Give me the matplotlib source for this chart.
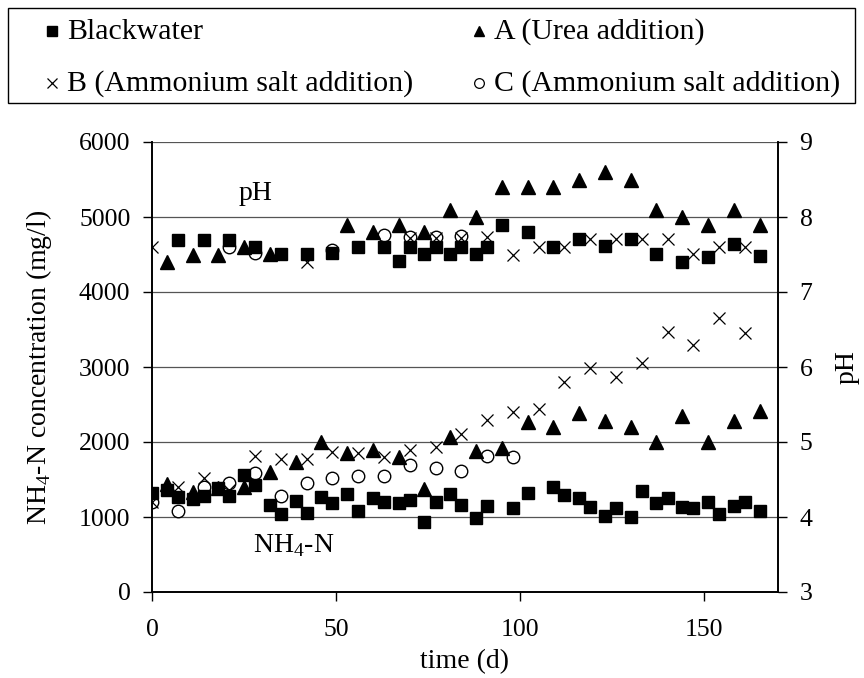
"""NH4-N concentration and pH over time for blackwater and the three spiked reactors."""

import matplotlib

matplotlib.use("Agg")
import matplotlib.pyplot as plt
from matplotlib.lines import Line2D
from matplotlib.patches import Rectangle

plt.rcParams["font.family"] = ["Liberation Serif", "DejaVu Serif"]
plt.rcParams["mathtext.fontset"] = "custom"
plt.rcParams["mathtext.rm"] = "Liberation Serif"

# --- NH4-N (mg/l, left axis) ---
bw_nh4_days = [0, 4, 7, 11, 14, 18, 21, 25, 28, 32, 35, 39, 42, 46, 49, 53, 56, 60, 63, 67,
               70, 74, 77, 81, 84, 88, 91, 98, 102, 109, 112, 116, 119, 123, 126, 130, 133,
               137, 140, 144, 147, 151, 154, 158, 161, 165]
bw_nh4 = [1320, 1360, 1270, 1240, 1280, 1390, 1280, 1560, 1430, 1160, 1040, 1220, 1060, 1270,
          1190, 1310, 1080, 1260, 1200, 1190, 1230, 940, 1200, 1310, 1160, 990, 1150, 1120,
          1320, 1400, 1290, 1250, 1130, 1010, 1120, 1000, 1350, 1190, 1250, 1130, 1120, 1200,
          1040, 1150, 1200, 1080]

a_nh4_days = [4, 11, 18, 25, 32, 39, 46, 53, 60, 67, 74, 81, 88, 95, 102, 109, 116, 123, 130,
              137, 144, 151, 158, 165]
a_nh4 = [1440, 1340, 1390, 1400, 1600, 1730, 2000, 1850, 1900, 1800, 1370, 2070, 1880, 1920,
         2270, 2200, 2390, 2280, 2200, 2000, 2350, 2000, 2280, 2410]

b_nh4_days = [0, 7, 14, 21, 28, 35, 42, 49, 56, 63, 70, 77, 84, 91, 98, 105, 112, 119, 126,
              133, 140, 147, 154, 161]
b_nh4 = [1200, 1400, 1520, 1360, 1810, 1770, 1770, 1870, 1850, 1800, 1900, 1940, 2110, 2290,
         2400, 2440, 2800, 2990, 2870, 3060, 3470, 3290, 3650, 3450]

c_nh4_days = [0, 7, 14, 21, 28, 35, 42, 49, 56, 63, 70, 77, 84, 91, 98]
c_nh4 = [1200, 1080, 1400, 1460, 1590, 1280, 1450, 1520, 1550, 1550, 1700, 1660, 1620, 1810, 1800]

# --- pH (right axis) ---
bw_ph_days = [7, 14, 21, 28, 35, 42, 49, 56, 63, 67, 70, 74, 77, 81, 84, 88, 91, 95, 102, 109,
              116, 123, 130, 137, 144, 151, 158, 165]
bw_ph = [7.70, 7.70, 7.70, 7.60, 7.51, 7.51, 7.52, 7.60, 7.60, 7.41, 7.60, 7.51, 7.60, 7.51,
         7.60, 7.51, 7.60, 7.89, 7.80, 7.60, 7.71, 7.61, 7.71, 7.51, 7.40, 7.47, 7.64, 7.48]

a_ph_days = [4, 11, 18, 25, 32, 53, 60, 67, 74, 81, 88, 95, 102, 109, 116, 123, 130, 137, 144,
             151, 158, 165]
a_ph = [7.40, 7.49, 7.49, 7.60, 7.51, 7.90, 7.80, 7.90, 7.80, 8.09, 8.00, 8.40, 8.40, 8.40,
        8.49, 8.60, 8.49, 8.09, 8.00, 7.89, 8.09, 7.89]

b_ph_days = [0, 42, 70, 77, 84, 91, 98, 105, 112, 119, 126, 133, 140, 147, 154, 161]
b_ph = [7.60, 7.40, 7.72, 7.72, 7.72, 7.73, 7.49, 7.60, 7.60, 7.71, 7.71, 7.71, 7.71, 7.51,
        7.60, 7.60]

c_ph_days = [21, 28, 49, 63, 70, 77, 84]
c_ph = [7.60, 7.52, 7.56, 7.76, 7.74, 7.74, 7.75]

SERIES_LABELS = ["Blackwater", "A (Urea addition)", "B (Ammonium salt addition)",
                 "C (Ammonium salt addition)"]

TICK_FONT = 18.5
LABEL_FONT = 20
ANNOT_FONT = 20
LEGEND_FONT = 21.5

W, H = 864, 678

STYLE = {
    "bw": dict(marker="s", ms=9, mfc="black", mec="black", ls="none"),
    "a": dict(marker="^", ms=9.5, mfc="black", mec="black", ls="none"),
    "b": dict(marker="x", ms=9, mec="black", mew=0.9, ls="none"),
    "c": dict(marker="o", ms=9, mfc="white", mec="black", mew=1.0, ls="none"),
}

LEGEND_STYLE = {
    "bw": dict(marker="s", ms=7, mfc="black", mec="black"),
    "a": dict(marker="^", ms=7.5, mfc="black", mec="black"),
    "b": dict(marker="x", ms=7, mec="black", mew=0.9),
    "c": dict(marker="o", ms=7, mfc="white", mec="black", mew=0.9),
}


def draw_legend(fig) -> None:
    # boxed two-by-two key above the plot, laid out in pixel units
    fig.add_artist(Rectangle((8 / W, 1 - 103 / H), 847 / W, 95 / H, transform=fig.transFigure,
                             fill=False, edgecolor="black", lw=1.0))
    slots = [("bw", 0, 52, 31), ("a", 1, 479, 31), ("b", 2, 52, 83), ("c", 3, 479, 83)]
    for key, idx, px, py in slots:
        fig.add_artist(Line2D([px / W], [1 - py / H], transform=fig.transFigure, ls="none",
                              **LEGEND_STYLE[key]))
        fig.text((px + 15) / W, 1 - (py + 1) / H, SERIES_LABELS[idx], fontsize=LEGEND_FONT,
                 ha="left", va="center")


def main() -> None:
    fig = plt.figure(figsize=(W / 100, H / 100), dpi=100)
    ax = fig.add_axes((152 / W, 1 - 592 / H, 626 / W, 450 / H))
    ax2 = ax.twinx()

    ax.set_xlim(0, 170)
    ax.set_ylim(0, 6000)
    ax2.set_ylim(3, 9)
    ax.set_yticks(range(0, 6001, 1000))
    ax2.set_yticks(range(3, 10))
    ax.set_xticks([0, 50, 100, 150])

    for y in range(1000, 6001, 1000):
        ax.axhline(y, color="#555555", lw=0.9, zorder=0)

    # circles and crosses sit behind the filled markers
    ax.plot(c_nh4_days, c_nh4, zorder=2, **STYLE["c"])
    ax.plot(b_nh4_days, b_nh4, zorder=2, **STYLE["b"])
    ax.plot(a_nh4_days, a_nh4, zorder=3, **STYLE["a"])
    ax.plot(bw_nh4_days, bw_nh4, zorder=3, **STYLE["bw"])

    ax2.plot(c_ph_days, c_ph, zorder=2, **STYLE["c"])
    ax2.plot(b_ph_days, b_ph, zorder=2, **STYLE["b"])
    ax2.plot(a_ph_days, a_ph, zorder=3, **STYLE["a"])
    ax2.plot(bw_ph_days, bw_ph, zorder=3, **STYLE["bw"])

    for a_ in (ax, ax2):
        a_.spines["top"].set_visible(False)
        for s in a_.spines.values():
            s.set_linewidth(1.2)
    ax.tick_params(direction="out", length=6.5, width=1.0, labelsize=TICK_FONT, pad=9)
    ax.tick_params(axis="x", pad=13)
    ax2.tick_params(direction="out", length=6.5, width=1.0, labelsize=TICK_FONT, pad=9)

    ax.set_xlabel("time (d)", fontsize=LABEL_FONT, labelpad=6)
    ax.set_ylabel(r"NH$_4$-N concentration (mg/l)", fontsize=LABEL_FONT, labelpad=18)
    ax2.set_ylabel("pH", fontsize=LABEL_FONT, labelpad=16)

    ax.text(28, 5320, "pH", fontsize=ANNOT_FONT, ha="center", va="center")
    ax.text(38.5, 620, r"NH$_4$-N", fontsize=ANNOT_FONT, ha="center", va="center")

    draw_legend(fig)

    fig.savefig("out.png", dpi=100)


if __name__ == "__main__":
    main()
